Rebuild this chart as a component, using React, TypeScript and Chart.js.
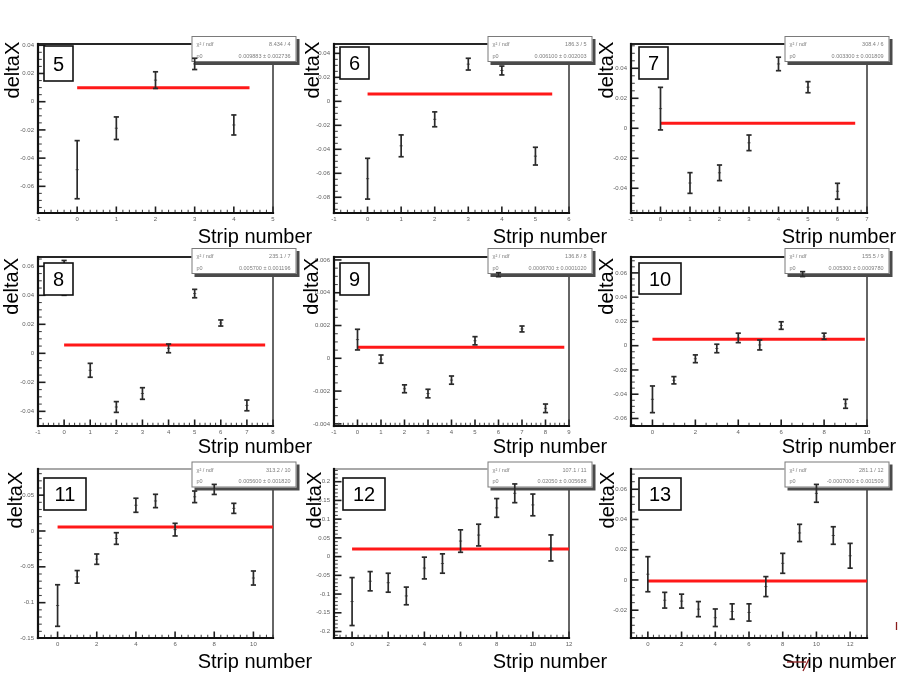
import { useEffect, useRef } from "react";
import { Chart, registerables } from "chart.js";

Chart.register(...registerables);

const FONT = '"Liberation Sans", Arial, Helvetica, sans-serif';

// ---- measured residuals (deltaX) and their errors, one pair of arrays per strip layer ----
const deltaX5 = [-0.0482, -0.0188, 0.0153, 0.0268, -0.0165];
const err5 = [0.0206, 0.008, 0.0059, 0.004, 0.0071];

const deltaX6 = [-0.0645, -0.0371, -0.015, 0.031, 0.0257, -0.0457];
const err6 = [0.017, 0.0091, 0.0062, 0.0049, 0.0037, 0.0074];

const deltaX7 = [0.0131, -0.0365, -0.0297, -0.0097, 0.0429, 0.0274, -0.042];
const err7 = [0.0142, 0.0069, 0.0052, 0.0052, 0.0045, 0.0037, 0.0053];

const deltaX8 = [0.052, -0.0117, -0.037, -0.0277, 0.0034, 0.0412, 0.0209, -0.0359];
const err8 = [0.012, 0.0048, 0.0037, 0.004, 0.003, 0.0029, 0.0021, 0.0037];

const deltaX9 = [0.00114, -0.00005, -0.00186, -0.00215, -0.00133, 0.00107, 0.0051, 0.00179, -0.00305];
const err9 = [0.00063, 0.00025, 0.00024, 0.00026, 0.00025, 0.00025, 0.00012, 0.00018, 0.00026];

const deltaX10 = [-0.0442, -0.0285, -0.0108, -0.0023, 0.0064, 0.0006, 0.0166, 0.059, 0.0078, -0.0479];
const err10 = [0.011, 0.003, 0.0032, 0.0035, 0.0039, 0.0041, 0.0031, 0.002, 0.0025, 0.0037];

const deltaX11 = [-0.104, -0.064, -0.0393, -0.0105, 0.0359, 0.0419, 0.0019, 0.0477, 0.058, 0.0316, -0.0656];
const err11 = [0.029, 0.0088, 0.0072, 0.0081, 0.0098, 0.0093, 0.0088, 0.0081, 0.007, 0.007, 0.0098];

const deltaX12 = [-0.12, -0.0657, -0.0697, -0.105, -0.0305, -0.0185, 0.0415, 0.0575, 0.13, 0.169, 0.138, 0.0232];
const err12 = [0.064, 0.0257, 0.0253, 0.0236, 0.029, 0.0258, 0.03, 0.029, 0.025, 0.025, 0.029, 0.0347];

const deltaX13 = [0.0038, -0.0134, -0.014, -0.0193, -0.025, -0.0209, -0.0215, -0.0044, 0.011, 0.0311, 0.0573, 0.0294, 0.016];
const err13 = [0.0116, 0.0052, 0.0046, 0.005, 0.0058, 0.0051, 0.0057, 0.0066, 0.0066, 0.0057, 0.0059, 0.0058, 0.0082];

// ---- constant (pol0) fit results per layer ----
const layers = [5, 6, 7, 8, 9, 10, 11, 12, 13];
const fitP0 = [0.009883, 0.0061, 0.0033, 0.0057, 0.00067, 0.0053, 0.0056, 0.0205, -0.0007];
const fitP0Err = [0.002736, 0.002003, 0.001809, 0.001196, 0.000102, 0.000978, 0.00182, 0.005688, 0.001509];
const fitChi2 = [8.434, 186.3, 308.4, 235.1, 136.8, 155.5, 313.2, 107.1, 281.1];

// ---- axis ranges and tick labels ----
const yRanges = [
  [-0.0789, 0.0409],
  [-0.0931, 0.0478],
  [-0.0565, 0.0562],
  [-0.0501, 0.0664],
  [-0.00413, 0.00618],
  [-0.0662, 0.0731],
  [-0.1493, 0.0865],
  [-0.2173, 0.2339],
  [-0.0384, 0.0734],
];
const xMaxes = [5, 6, 7, 8, 9, 10, 11, 12, 13];

const yTicks5 = [-0.06, -0.04, -0.02, 0, 0.02, 0.04];
const yTicks6 = [-0.08, -0.06, -0.04, -0.02, 0, 0.02, 0.04];
const yTicks7 = [-0.04, -0.02, 0, 0.02, 0.04];
const yTicks8 = [-0.04, -0.02, 0, 0.02, 0.04, 0.06];
const yTicks9 = [-0.004, -0.002, 0, 0.002, 0.004, 0.006];
const yTicks10 = [-0.06, -0.04, -0.02, 0, 0.02, 0.04, 0.06];
const yTicks11 = [-0.15, -0.1, -0.05, 0, 0.05];
const yTicks12 = [-0.2, -0.15, -0.1, -0.05, 0, 0.05, 0.1, 0.15, 0.2];
const yTicks13 = [-0.02, 0, 0.02, 0.04, 0.06];

const xTicks5 = [-1, 0, 1, 2, 3, 4, 5];
const xTicks6 = [-1, 0, 1, 2, 3, 4, 5, 6];
const xTicks7 = [-1, 0, 1, 2, 3, 4, 5, 6, 7];
const xTicks8 = [-1, 0, 1, 2, 3, 4, 5, 6, 7, 8];
const xTicks9 = [-1, 0, 1, 2, 3, 4, 5, 6, 7, 8, 9];
const xTicks10 = [0, 2, 4, 6, 8, 10];
const xTicks11 = [0, 2, 4, 6, 8, 10];
const xTicks12 = [0, 2, 4, 6, 8, 10, 12];
const xTicks13 = [0, 2, 4, 6, 8, 10, 12];

// ---- pad geometry ----
const COL_LEFT = [38, 334, 631];
const COL_RIGHT = [273, 569, 867];
const ROW_TOP = [44, 257, 469];
const ROW_BOTTOM = [213, 426, 638];
const PAD_L = 40;
const PAD_R = 42;
const PAD_T = 12;
const PAD_B = 36;

const X_TITLE_X = [197.7, 492.7, 781.7];
const X_TITLE_BASE = [243.3, 452.6, 667.6];
const Y_TITLE_BASE = [
  [18.5, 318.5, 612.5],
  [17.5, 317.5, 612.5],
  [21.5, 320.5, 613.5],
];
const Y_TITLE_END = [41.7, 258, 471.7];
const STAT_DY = [-8, -9, -7.5];
const LABEL_BOX = [
  [44, 46, 73, 81],
  [340, 47, 369, 79],
  [639, 47, 668, 79],
  [44, 263, 73, 295],
  [340, 263, 369, 295],
  [639, 263, 681, 294],
  [44, 478, 86, 510],
  [343, 478, 385, 510],
  [639, 478, 681, 510],
];
const Y_MINOR = [4, 4, 4, 4, 4, 4, 5, 5, 4];
const X_MINOR = [6, 5, 5, 5, 5, 4, 6, 6, 6];

type PanelCfg = {
  idx: number;
  layer: number;
  deltas: number[];
  errs: number[];
  yTicks: number[];
  xTicks: number[];
  row: number;
  col: number;
  cl: number;
  ct: number;
  w: number;
  h: number;
};

const deltaSets = [deltaX5, deltaX6, deltaX7, deltaX8, deltaX9, deltaX10, deltaX11, deltaX12, deltaX13];
const errSets = [err5, err6, err7, err8, err9, err10, err11, err12, err13];
const yTickSets = [yTicks5, yTicks6, yTicks7, yTicks8, yTicks9, yTicks10, yTicks11, yTicks12, yTicks13];
const xTickSets = [xTicks5, xTicks6, xTicks7, xTicks8, xTicks9, xTicks10, xTicks11, xTicks12, xTicks13];

const PANELS: PanelCfg[] = layers.map((layer, idx) => {
  const row = Math.floor(idx / 3);
  const col = idx % 3;
  const cl = COL_LEFT[col] - PAD_L;
  const ct = ROW_TOP[row] - PAD_T;
  return {
    idx,
    layer,
    deltas: deltaSets[idx],
    errs: errSets[idx],
    yTicks: yTickSets[idx],
    xTicks: xTickSets[idx],
    row,
    col,
    cl,
    ct,
    w: COL_RIGHT[col] - COL_LEFT[col] + PAD_L + PAD_R,
    h: ROW_BOTTOM[row] - ROW_TOP[row] + PAD_T + PAD_B,
  };
});

function fmtTick(v: number): string {
  if (Math.abs(v) < 1e-12) return "0";
  return String(parseFloat(v.toPrecision(6)));
}

function fmtStat(v: number): string {
  return v.toPrecision(4);
}

function line(ctx: CanvasRenderingContext2D, x1: number, y1: number, x2: number, y2: number) {
  ctx.beginPath();
  ctx.moveTo(x1, y1);
  ctx.lineTo(x2, y2);
  ctx.stroke();
}

function drawFrame(chart: any, p: PanelCfg) {
  const { ctx, chartArea: a } = chart;
  const xs = chart.scales.x;
  const ys = chart.scales.y;
  const [yMin, yMax] = yRanges[p.idx];
  ctx.save();

  // y ticks, drawn inward from the left axis
  const ys0 = p.yTicks[0];
  const yStep = p.yTicks[1] - p.yTicks[0];
  const yDiv = Y_MINOR[p.idx];
  const yMinor = yStep / yDiv;
  const iy0 = Math.ceil((yMin - ys0) / yMinor - 1e-6);
  const iy1 = Math.floor((yMax - ys0) / yMinor + 1e-6);
  for (let i = iy0; i <= iy1; i++) {
    const v = ys0 + i * yMinor;
    const py = ys.getPixelForValue(v);
    const major = ((i % yDiv) + yDiv) % yDiv === 0;
    ctx.strokeStyle = major ? "#1e1e1e" : "#4a4a4a";
    ctx.lineWidth = major ? 1.6 : 1.1;
    line(ctx, a.left, py, a.left + (major ? 7.5 : 3.8), py);
  }

  // x ticks, drawn upward from the bottom axis
  const xs0 = p.xTicks[0];
  const xStep = p.xTicks[1] - p.xTicks[0];
  const xDiv = X_MINOR[p.idx];
  const xMinor = xStep / xDiv;
  const ix0 = Math.ceil((-1 - xs0) / xMinor - 1e-6);
  const ix1 = Math.floor((xMaxes[p.idx] - xs0) / xMinor + 1e-6);
  for (let i = ix0; i <= ix1; i++) {
    const v = xs0 + i * xMinor;
    const px = xs.getPixelForValue(v);
    const major = ((i % xDiv) + xDiv) % xDiv === 0;
    ctx.strokeStyle = major ? "#1e1e1e" : "#4a4a4a";
    ctx.lineWidth = major ? 1.6 : 1.1;
    line(ctx, px, a.bottom, px, a.bottom - (major ? 6.5 : 3.3));
  }

  // frame
  ctx.lineCap = "square";
  ctx.strokeStyle = p.row === 2 ? "#a8a8a8" : "#262626";
  ctx.lineWidth = 1.8;
  line(ctx, a.left, a.top, a.right, a.top);
  ctx.strokeStyle = "#333";
  ctx.lineWidth = 1.5;
  line(ctx, a.right, a.top, a.right, a.bottom);
  ctx.strokeStyle = "#111";
  ctx.lineWidth = 2.2;
  line(ctx, a.left, a.top, a.left, a.bottom);
  line(ctx, a.left, a.bottom, a.right, a.bottom);
  ctx.restore();
}

function drawStats(chart: any, p: PanelCfg) {
  const { ctx } = chart;
  const bx = COL_LEFT[p.col] + 153.5 - p.cl;
  const by = ROW_TOP[p.row] + STAT_DY[p.row] - p.ct;
  const bw = 105;
  const bh = 26;
  ctx.save();
  ctx.fillStyle = "#4a4a4a";
  ctx.fillRect(bx + 3, by + 3, bw, bh);
  ctx.fillStyle = "#fff";
  ctx.fillRect(bx, by, bw, bh);
  ctx.strokeStyle = "#7a7a7a";
  ctx.lineWidth = 1;
  ctx.strokeRect(bx + 0.5, by + 0.5, bw - 1, bh - 1);
  ctx.fillStyle = "#7d7d7d";
  ctx.font = `5.5px ${FONT}`;
  ctx.textBaseline = "alphabetic";
  const ndf = p.deltas.length - 1;
  ctx.textAlign = "left";
  ctx.fillText("\u03c7\u00b2 / ndf", bx + 5, by + 10);
  ctx.fillText("p0", bx + 5, by + 21.5);
  ctx.textAlign = "right";
  ctx.fillText(`${fitChi2[p.idx]} / ${ndf}`, bx + bw - 6, by + 10);
  ctx.fillText(
    `${fmtStat(fitP0[p.idx])} \u00b1 ${fmtStat(fitP0Err[p.idx])}`,
    bx + bw - 6,
    by + 21.5
  );
  ctx.restore();
}

function drawErrorBars(chart: any, p: PanelCfg) {
  const { ctx, chartArea: a } = chart;
  const xs = chart.scales.x;
  const ys = chart.scales.y;
  ctx.save();
  ctx.beginPath();
  ctx.rect(a.left, a.top - 2, a.right - a.left, a.bottom - a.top + 4);
  ctx.clip();
  ctx.strokeStyle = "#2a2a2a";
  ctx.lineWidth = 1.7;
  p.deltas.forEach((d, i) => {
    const px = xs.getPixelForValue(i);
    const top = ys.getPixelForValue(d + p.errs[i]);
    const bot = ys.getPixelForValue(d - p.errs[i]);
    line(ctx, px, top, px, bot);
    line(ctx, px - 2.6, top, px + 2.6, top);
    line(ctx, px - 2.6, bot, px + 2.6, bot);
  });
  ctx.restore();
}

function drawOverlay(chart: any, p: PanelCfg) {
  const { ctx } = chart;
  ctx.save();

  // layer number box
  const [l, t, r, b] = LABEL_BOX[p.idx];
  const lx = l - p.cl;
  const ly = t - p.ct;
  const lw = r - l;
  const lh = b - t;
  ctx.fillStyle = "#fff";
  ctx.fillRect(lx, ly, lw, lh);
  ctx.strokeStyle = "#111";
  ctx.lineWidth = 1.6;
  ctx.strokeRect(lx, ly, lw, lh);
  ctx.fillStyle = "#000";
  ctx.font = `20px ${FONT}`;
  ctx.textAlign = "center";
  ctx.textBaseline = "alphabetic";
  ctx.fillText(String(p.layer), lx + lw / 2, ly + lh / 2 + 7.2);

  // axis titles
  ctx.textAlign = "left";
  ctx.fillText("Strip number", X_TITLE_X[p.col] - p.cl, X_TITLE_BASE[p.row] - p.ct);
  ctx.save();
  ctx.translate(Y_TITLE_BASE[p.row][p.col] - p.cl, Y_TITLE_END[p.row] - p.ct);
  ctx.rotate(-Math.PI / 2);
  ctx.textAlign = "right";
  ctx.fillText("deltaX", 0, 0);
  ctx.restore();

  // small pen strokes near the last pad's title
  if (p.idx === 8) {
    ctx.strokeStyle = "#8a1c1c";
    ctx.lineWidth = 1.3;
    line(ctx, 787 - p.cl, 662 - p.ct, 806 - p.cl, 662 - p.ct);
    line(ctx, 803 - p.cl, 671 - p.ct, 809 - p.cl, 659 - p.ct);
    line(ctx, 896.5 - p.cl, 622 - p.ct, 896.5 - p.cl, 630 - p.ct);
  }
  ctx.restore();
}

function PadChart({ p }: { p: PanelCfg }) {
  const ref = useRef<HTMLCanvasElement | null>(null);

  useEffect(() => {
    const canvas = ref.current;
    if (!canvas) return;
    const [yMin, yMax] = yRanges[p.idx];
    const xMax = xMaxes[p.idx];
    const lastStrip = p.deltas.length - 1;
    const points = p.deltas.map((d, i) => ({ x: i, y: d }));
    const fitLine = [
      { x: 0, y: fitP0[p.idx] },
      { x: lastStrip * 1.1, y: fitP0[p.idx] },
    ];

    const plugin = {
      id: "rootPad",
      beforeDatasetsDraw(chart: any) {
        drawFrame(chart, p);
        drawStats(chart, p);
      },
      afterDatasetsDraw(chart: any) {
        drawErrorBars(chart, p);
      },
      afterDraw(chart: any) {
        drawOverlay(chart, p);
      },
    };

    const tickFont = { family: FONT, size: 6 };

    const chart = new Chart(canvas, {
      type: "scatter",
      data: {
        datasets: [
          {
            data: points,
            pointStyle: "line",
            pointRadius: 1.6,
            borderColor: "#666",
            backgroundColor: "#666",
            borderWidth: 1,
            order: 1,
          },
          {
            data: fitLine,
            showLine: true,
            borderColor: "rgb(255,24,24)",
            borderWidth: 3,
            pointRadius: 0,
            order: 2,
          },
        ],
      },
      options: {
        responsive: false,
        animation: false,
        events: [],
        layout: { padding: { left: 0, top: PAD_T, right: PAD_R, bottom: 0 } },
        plugins: {
          legend: { display: false },
          tooltip: { enabled: false },
          title: { display: false },
        },
        scales: {
          x: {
            type: "linear",
            min: -1,
            max: xMax,
            grid: { display: false, drawTicks: false },
            border: { display: false },
            ticks: {
              autoSkip: false,
              maxRotation: 0,
              padding: 3,
              font: tickFont,
              color: "#606060",
              callback: (v: any) => fmtTick(Number(v)),
            },
            afterBuildTicks: (s: any) => {
              s.ticks = p.xTicks.map((v) => ({ value: v }));
            },
            afterFit: (s: any) => {
              s.height = PAD_B;
            },
          },
          y: {
            type: "linear",
            min: yMin,
            max: yMax,
            grid: { display: false, drawTicks: false },
            border: { display: false },
            ticks: {
              autoSkip: false,
              padding: 4,
              font: tickFont,
              color: "#606060",
              callback: (v: any) => fmtTick(Number(v)),
            },
            afterBuildTicks: (s: any) => {
              s.ticks = p.yTicks.map((v) => ({ value: v }));
            },
            afterFit: (s: any) => {
              s.width = PAD_L;
            },
          },
        },
      } as any,
      plugins: [plugin],
    });

    return () => chart.destroy();
  }, [p]);

  return (
    <canvas
      ref={ref}
      width={p.w}
      height={p.h}
      style={{
        position: "absolute",
        left: p.cl,
        top: p.ct,
        width: p.w,
        height: p.h,
      }}
    />
  );
}

export default function App() {
  return (
    <div
      style={{
        position: "absolute",
        left: 0,
        top: 0,
        width: 898,
        height: 673,
        background: "#fff",
        overflow: "hidden",
      }}
    >
      {PANELS.map((p) => (
        <PadChart key={p.layer} p={p} />
      ))}
    </div>
  );
}
